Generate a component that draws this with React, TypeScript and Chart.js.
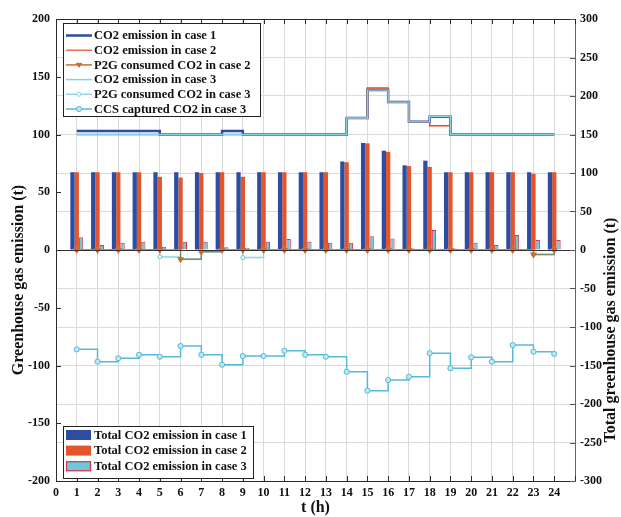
import React, { useEffect, useRef } from 'react';
import { Chart, registerables } from 'chart.js';

Chart.register(...registerables);

// ---------------- data ----------------
const hours = [1, 2, 3, 4, 5, 6, 7, 8, 9, 10, 11, 12, 13, 14, 15, 16, 17, 18, 19, 20, 21, 22, 23, 24];

// bars (right axis, "Total greenhouse gas emission (t)")
const totalCase1 = [101, 101, 101, 101, 101, 101, 101, 101, 101, 101, 101, 101, 101, 115, 139, 129, 110, 116, 101, 101, 101, 101, 101, 101];
const totalCase2 = [101, 101, 101, 101, 95, 94, 100, 101, 95, 101, 101, 101, 101, 114, 138.5, 127.5, 109, 108, 101, 101, 101, 101, 99, 101];
const totalCase3 = [16.5, 6.5, 9.5, 10.8, 4.3, 10.8, 10.8, 3.5, 3, 10.8, 14.3, 10.8, 9.5, 9.5, 18, 15, 2, 26, 2, 9.5, 6.5, 19.5, 13, 13];

// stairs lines (left axis, "Greenhouse gas emission (t)")
const emissionCase1 = [103, 103, 103, 103, 100, 100, 100, 103, 100, 100, 100, 100, 100, 114.3, 138.5, 128.1, 111, 115.4, 100, 100, 100, 100, 100, 100];
const emissionCase2 = [100, 100, 100, 100, 100, 100, 100, 100, 100, 100, 100, 100, 100, 114.3, 140.3, 128.1, 111, 107.6, 100, 100, 100, 100, 100, 100];
const emissionCase3 = [100, 100, 100, 100, 100, 100, 100, 100, 100, 100, 100, 100, 100, 114.3, 138.5, 128.1, 111, 115.4, 100, 100, 100, 100, 100, 100];
const p2gCase2 = [0, 0, 0, 0, 0, -8, -1.5, 0, 0, 0, 0, 0, 0, 0, 0, 0, 0, 0, 0, 0, 0, 0, -4, 0];
const p2gCase3 = [0, 0, 0, 0, -6, -8, -1.5, 0, -6.5, 0, 0, 0, 0, 0, 0, 0, 0, 0, 0, 0, 0, 0, -4, 0];
const ccsCase3 = [-86, -96.7, -93.8, -90.7, -92.4, -83.1, -90.7, -99.3, -91.8, -91.8, -87.2, -90.7, -92.4, -105.4, -121.8, -112.6, -109.7, -89.3, -102.4, -92.9, -96.7, -82.3, -88, -90];

const lineLegend = [
  'CO2 emission in case 1',
  'CO2 emission in case 2',
  'P2G consumed CO2 in case 2',
  'CO2 emission in case 3',
  'P2G consumed CO2 in case 3',
  'CCS captured CO2 in case 3',
];
const barLegend = [
  'Total CO2 emission in case 1',
  'Total CO2 emission in case 2',
  'Total CO2 emission in case 3',
];
const xTitle = 't (h)';
const leftTitle = 'Greenhouse gas emission (t)';
const rightTitle = 'Total greenhouse gas emission (t)';

// ---------------- styles ----------------
const FONT = "'Liberation Serif', 'Times New Roman', serif";
const BLUE = '#2E4B9F';
const RED = '#E0492B';
const ORANGE = '#D5672C';
const CYAN_LIGHT = '#86D2E6';
const CYAN_P2G = '#8ED3E6';
const CYAN_CCS = '#55B9DC';
const BAR_BLUE = '#2F4DA0';
const BAR_ORANGE = '#E5552B';
const BAR_CYAN = '#6CC8DA';
const BAR_EDGE = '#D8344A';
const GRID = '#dadada';
const AXIS = '#2a2a2a';

const pts = (vals: number[]) => hours.map((h, i) => ({ x: h, y: vals[i] }));

function drawMarker(ctx: CanvasRenderingContext2D, kind: string, x: number, y: number, color: string, fill: string, r: number) {
  ctx.save();
  ctx.strokeStyle = color;
  ctx.fillStyle = fill;
  ctx.lineWidth = 1;
  ctx.beginPath();
  if (kind === 'tri') {
    ctx.moveTo(x - r, y - r * 0.6);
    ctx.lineTo(x + r, y - r * 0.6);
    ctx.lineTo(x, y + r * 0.9);
    ctx.closePath();
  } else {
    ctx.arc(x, y, r, 0, Math.PI * 2);
  }
  ctx.fill();
  ctx.stroke();
  ctx.restore();
}

const customPlugin = {
  id: 'customDecor',
  afterDatasetsDraw(chart: any) {
    const { ctx, chartArea: ca, scales } = chart;
    const y0 = Math.round(scales.y1.getPixelForValue(0)) + 0.5;
    ctx.save();
    ctx.strokeStyle = '#333';
    ctx.lineWidth = 1;
    ctx.beginPath();
    ctx.moveTo(ca.left, y0);
    ctx.lineTo(ca.right, y0);
    ctx.stroke();
    ctx.restore();
  },
  afterDraw(chart: any) {
    const { ctx, chartArea: ca, scales } = chart;
    ctx.save();
    // top border
    ctx.strokeStyle = AXIS;
    ctx.lineWidth = 1;
    ctx.beginPath();
    ctx.moveTo(ca.left, Math.round(ca.top) + 0.5);
    ctx.lineTo(ca.right, Math.round(ca.top) + 0.5);
    ctx.stroke();

    // inward tick marks
    const tl = 5;
    ctx.beginPath();
    scales.x.ticks.forEach((t: any) => {
      const x = Math.round(scales.x.getPixelForValue(t.value)) + 0.5;
      ctx.moveTo(x, ca.bottom);
      ctx.lineTo(x, ca.bottom - tl);
      ctx.moveTo(x, ca.top);
      ctx.lineTo(x, ca.top + tl);
    });
    scales.y.ticks.forEach((t: any) => {
      const y = Math.round(scales.y.getPixelForValue(t.value)) + 0.5;
      ctx.moveTo(ca.left, y);
      ctx.lineTo(ca.left + tl, y);
    });
    ctx.stroke();
    ctx.strokeStyle = '#555';
    ctx.beginPath();
    scales.y1.ticks.forEach((t: any) => {
      const y = Math.round(scales.y1.getPixelForValue(t.value)) + 0.5;
      ctx.moveTo(ca.right, y);
      ctx.lineTo(ca.right - tl, y);
    });
    ctx.stroke();

    // axis titles
    ctx.fillStyle = '#111';
    ctx.font = `bold 16px ${FONT}`;
    ctx.textAlign = 'center';
    ctx.textBaseline = 'middle';
    ctx.fillText(xTitle, (ca.left + ca.right) / 2, 508);
    ctx.save();
    ctx.translate(19, 280);
    ctx.rotate(-Math.PI / 2);
    ctx.fillText(leftTitle, 0, 0);
    ctx.restore();
    ctx.save();
    ctx.translate(611, 330);
    ctx.rotate(-Math.PI / 2);
    ctx.fillText(rightTitle, 0, 0);
    ctx.restore();

    // top legend
    const lx = 63.5, ly = 23.5, lw = 197, lh = 93;
    ctx.fillStyle = '#fff';
    ctx.fillRect(lx, ly, lw, lh);
    ctx.strokeStyle = '#222';
    ctx.lineWidth = 1;
    ctx.strokeRect(lx, ly, lw, lh);
    const lineStyles = [
      { c: BLUE, w: 2.5, m: '' },
      { c: RED, w: 1.2, m: '' },
      { c: ORANGE, w: 1.5, m: 'tri' },
      { c: CYAN_LIGHT, w: 1.5, m: '' },
      { c: CYAN_P2G, w: 1.5, m: 'circle-s' },
      { c: CYAN_CCS, w: 1.5, m: 'circle' },
    ];
    ctx.font = `bold 12.5px ${FONT}`;
    ctx.textAlign = 'left';
    ctx.textBaseline = 'middle';
    lineLegend.forEach((txt, i) => {
      const y = 35.5 + i * 14.7;
      const st = lineStyles[i];
      ctx.strokeStyle = st.c;
      ctx.lineWidth = st.w;
      ctx.beginPath();
      ctx.moveTo(66, y);
      ctx.lineTo(92, y);
      ctx.stroke();
      if (st.m === 'tri') drawMarker(ctx, 'tri', 79, y, st.c, st.c, 2.6);
      if (st.m === 'circle-s') drawMarker(ctx, 'circle', 79, y, st.c, '#fff', 2);
      if (st.m === 'circle') drawMarker(ctx, 'circle', 79, y, st.c, '#bfe6f3', 2.6);
      ctx.fillStyle = '#111';
      ctx.fillText(txt, 94, y + 0.5);
    });

    // bottom legend
    const bx = 63.5, by = 426.5, bw = 190, bh = 52;
    ctx.fillStyle = '#fff';
    ctx.fillRect(bx, by, bw, bh);
    ctx.strokeStyle = '#222';
    ctx.lineWidth = 1;
    ctx.strokeRect(bx, by, bw, bh);
    const patch = [
      { f: BAR_BLUE, e: '' },
      { f: BAR_ORANGE, e: '' },
      { f: BAR_CYAN, e: BAR_EDGE },
    ];
    barLegend.forEach((txt, i) => {
      const y = 435 + i * 15.6;
      const p = patch[i];
      ctx.fillStyle = p.f;
      ctx.fillRect(66, y - 5, 25, 10);
      if (p.e) {
        ctx.strokeStyle = p.e;
        ctx.lineWidth = 1.2;
        ctx.strokeRect(66.5, y - 4.5, 24, 9);
      }
      ctx.fillStyle = '#111';
      ctx.fillText(txt, 94, y + 0.5);
    });
    ctx.restore();
  },
};

export default function App() {
  const ref = useRef<HTMLCanvasElement | null>(null);

  useEffect(() => {
    if (!ref.current) return;
    const tickFont = { family: FONT, size: 12, weight: 'bold' as const };
    const chart = new Chart(ref.current, {
      type: 'bar',
      data: {
        datasets: [
          // lines (drawn on top: lower order)
          {
            type: 'line', label: lineLegend[5], data: pts(ccsCase3), yAxisID: 'y', stepped: 'before',
            borderColor: CYAN_CCS, borderWidth: 1.5, pointRadius: 2.6, pointBorderWidth: 1,
            pointBackgroundColor: '#bfe6f3', pointBorderColor: CYAN_CCS, fill: false, order: 1,
          },
          {
            type: 'line', label: lineLegend[2], data: pts(p2gCase2), yAxisID: 'y', stepped: 'before',
            borderColor: '#7a8a70', borderWidth: 1.5, pointRadius: 2.6, pointStyle: 'triangle', rotation: 180,
            pointBackgroundColor: ORANGE, pointBorderColor: ORANGE, fill: false, order: 2,
          },
          {
            type: 'line', label: lineLegend[4], data: pts(p2gCase3), yAxisID: 'y', stepped: 'before',
            borderColor: CYAN_P2G, borderWidth: 1.5, pointRadius: 2, pointBorderWidth: 1,
            pointBackgroundColor: '#fff', pointBorderColor: '#6cc4de', fill: false, order: 3,
          },
          {
            type: 'line', label: lineLegend[3], data: pts(emissionCase3), yAxisID: 'y', stepped: 'before',
            borderColor: CYAN_LIGHT, borderWidth: 1.3, pointRadius: 0, fill: false, order: 4,
          },
          {
            type: 'line', label: lineLegend[1], data: pts(emissionCase2), yAxisID: 'y', stepped: 'before',
            borderColor: RED, borderWidth: 1.5, pointRadius: 0, fill: false, order: 5,
          },
          {
            type: 'line', label: lineLegend[0], data: pts(emissionCase1), yAxisID: 'y', stepped: 'before',
            borderColor: BLUE, borderWidth: 2.5, pointRadius: 0, fill: false, order: 6,
          },
          // bars
          {
            type: 'bar', label: barLegend[0], data: pts(totalCase1), yAxisID: 'y1',
            backgroundColor: BAR_BLUE, borderWidth: 0, categoryPercentage: 0.62, barPercentage: 1, order: 10,
          },
          {
            type: 'bar', label: barLegend[1], data: pts(totalCase2), yAxisID: 'y1',
            backgroundColor: BAR_ORANGE, borderWidth: 0, categoryPercentage: 0.62, barPercentage: 1, order: 11,
          },
          {
            type: 'bar', label: barLegend[2], data: pts(totalCase3), yAxisID: 'y1',
            backgroundColor: BAR_CYAN, borderColor: BAR_EDGE, borderWidth: 1, categoryPercentage: 0.62, barPercentage: 1, order: 12,
          },
        ] as any,
      },
      options: {
        responsive: false,
        animation: false,
        events: [],
        layout: { padding: { top: 19, left: 0, right: 0, bottom: 0 } },
        plugins: { legend: { display: false }, tooltip: { enabled: false } },
        scales: {
          x: {
            type: 'linear', min: 0, max: 25, offset: false,
            grid: { color: GRID, offset: false, drawTicks: false },
            border: { display: true, color: AXIS },
            ticks: {
              stepSize: 1, autoSkip: false, maxRotation: 0, padding: 5, color: '#111', font: tickFont,
              callback: (v: any) => (v === 25 ? '' : String(v)),
            },
            afterFit: (s: any) => { s.height = 36; },
          },
          y: {
            position: 'left', min: -200, max: 200,
            grid: { display: false, drawTicks: false },
            border: { display: true, color: AXIS },
            ticks: { stepSize: 50, padding: 6, color: '#111', font: tickFont },
            afterFit: (s: any) => { s.width = 56; },
          },
          y1: {
            position: 'right', min: -300, max: 300,
            grid: { color: GRID, drawTicks: false },
            border: { display: true, color: '#666' },
            ticks: { stepSize: 50, padding: 5, color: '#111', font: tickFont },
            afterFit: (s: any) => { s.width = 46; },
          },
        },
      } as any,
      plugins: [customPlugin],
    });
    return () => chart.destroy();
  }, []);

  return (
    <div style={{ position: 'absolute', left: 0, top: 0, width: 621, height: 517, background: '#fff' }}>
      <canvas ref={ref} width={621} height={517} style={{ display: 'block', width: 621, height: 517 }} />
    </div>
  );
}
